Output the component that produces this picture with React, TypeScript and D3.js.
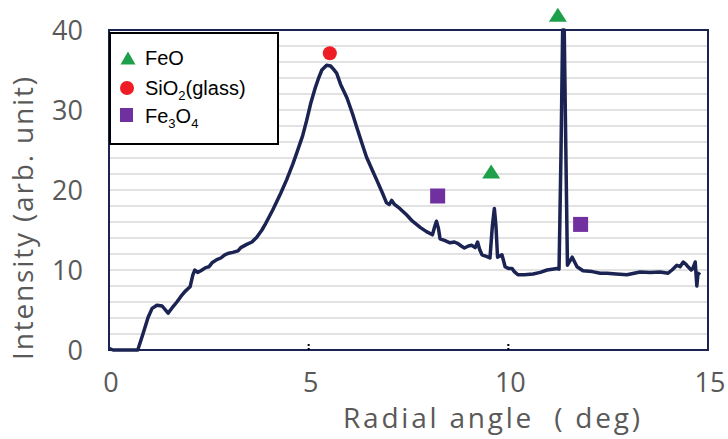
import React from "react";
import * as d3 from "d3";

const angle = [
  0.0, 0.1, 0.72, 0.85, 0.98, 1.08, 1.2, 1.33, 1.48, 1.6, 1.7, 1.8, 1.9, 2.03, 2.1, 2.15, 2.22, 2.3, 2.42, 2.5,
  2.58, 2.7, 2.8, 2.9, 3.0, 3.1, 3.23, 3.3, 3.45, 3.58, 3.7, 3.83, 3.9, 4.1, 4.3, 4.45, 4.6, 4.7, 4.85, 4.95,
  5.05, 5.16, 5.25, 5.33, 5.45, 5.55, 5.62, 5.7, 5.8, 5.96, 6.1, 6.2, 6.35, 6.45, 6.6, 6.7, 6.85, 6.95, 7.02, 7.08,
  7.15, 7.28, 7.45, 7.6, 7.8, 7.95, 8.1, 8.16, 8.2, 8.25, 8.29, 8.4, 8.54, 8.65, 8.74, 8.82, 8.9, 9.0, 9.08, 9.17,
  9.23, 9.28, 9.34, 9.45, 9.54, 9.6, 9.65, 9.69, 9.73, 9.8, 9.84, 9.92, 10.0, 10.09, 10.15, 10.24, 10.4, 10.62, 10.8, 10.97,
  11.1, 11.22, 11.27, 11.32, 11.36, 11.4, 11.44, 11.48, 11.6, 11.72, 11.87, 12.1, 12.3, 12.47, 12.7, 12.97, 13.15, 13.3, 13.55, 13.8,
  14.0, 14.1, 14.22, 14.3, 14.38, 14.45, 14.5, 14.58, 14.62, 14.68, 14.72, 14.75, 14.8,
];
const intensity = [
  0.2, 0.0, 0.0, 2.0, 4.1, 5.2, 5.6, 5.5, 4.6, 5.4, 6.0, 6.7, 7.3, 7.9, 9.4, 10.0, 9.7, 9.9, 10.3, 10.4,
  10.9, 11.3, 11.5, 11.9, 12.1, 12.2, 12.4, 12.8, 13.2, 13.5, 14.1, 15.0, 15.6, 17.5, 19.6, 21.3, 23.2, 24.6, 26.8, 28.7,
  30.8, 32.7, 34.0, 35.0, 35.6, 35.5, 35.1, 34.6, 33.2, 31.5, 29.5, 27.9, 25.6, 24.1, 22.4, 21.3, 19.6, 18.4, 18.2, 18.7,
  18.2, 17.7, 16.9, 16.1, 15.3, 14.8, 14.4, 15.5, 16.1, 15.2, 13.9, 13.7, 13.4, 13.5, 13.3, 13.0, 12.75, 13.0, 13.1, 12.8,
  13.5, 12.6, 11.9, 11.7, 11.5, 15.5, 17.7, 15.5, 11.6, 11.8, 11.9, 10.4, 10.2, 10.2, 9.8, 9.4, 9.4, 9.5, 9.7, 10.0,
  10.1, 10.2, 10.1, 25, 40, 40, 25, 10.6, 11.6, 10.4, 9.9, 9.8, 9.6, 9.6, 9.5, 9.4, 9.6, 9.75, 9.7, 9.75,
  9.6, 10.0, 10.6, 10.4, 11.0, 10.7, 10.4, 10.0, 10.2, 11.0, 8.0, 9.6, 9.4,
];

const xTicks = [0, 5, 10, 15];
const yTicks = [0, 10, 20, 30, 40];
const gridValues = d3.range(2, 40, 2);

// phase markers: [angle, intensity]
const feoMarkers = [[9.57, 22.3], [11.24, 41.9]];
const sio2Markers = [[5.53, 37.1]];
const fe3o4Markers = [[8.23, 19.25], [11.81, 15.7]];

const legendLabels = ["FeO", "SiO2(glass)", "Fe3O4"];
const xTitle = "Radial angle\u00a0\u00a0( deg)";
const yTitle = "Intensity (arb. unit)";

const W = 728, H = 439;
const left = 109, right = 708, top = 30, bottom = 350;

export default function App() {
  const x = d3.scaleLinear().domain([0, 15]).range([left, right]);
  const y = d3.scaleLinear().domain([0, 40]).range([bottom, top]);
  const pts = angle.map((a, i) => [a, intensity[i]] as [number, number]);
  const line = d3.line<[number, number]>().x(d => x(d[0])).y(d => y(d[1]));
  const gray = "#595959";
  const navy = "#1b2352";
  const tri = (cx: number, cy: number, w: number, h: number) =>
    `M${cx},${cy - h / 2}L${cx + w / 2},${cy + h / 2}L${cx - w / 2},${cy + h / 2}Z`;
  const font = "'Open Sans', 'Noto Sans', sans-serif";
  const lfont = "'Liberation Sans', Arial, sans-serif";

  return (
    <svg width={W} height={H} style={{ position: "absolute", left: 0, top: 0, background: "#fff" }}>
      <rect x={0} y={0} width={W} height={H} fill="#fff" />
      {gridValues.map(v => (
        <line key={v} x1={left} x2={right} y1={y(v)} y2={y(v)} stroke="#e2e2e2" strokeWidth={1.8} />
      ))}
      <rect x={left} y={top} width={right - left} height={bottom - top} fill="none" stroke={navy} strokeWidth={2} />
      {[5, 10].map(v => (
        <line key={v} x1={x(v)} x2={x(v)} y1={bottom} y2={bottom - 8} stroke="#000" strokeWidth={2} strokeDasharray="2,2" />
      ))}
      <path d={line(pts) || ""} fill="none" stroke={navy} strokeWidth={3.5} strokeLinejoin="round" />

      {sio2Markers.map((m, i) => (
        <circle key={i} cx={x(m[0])} cy={y(m[1])} r={7} fill="#ee1c25" />
      ))}
      {feoMarkers.map((m, i) => (
        <path key={i} d={tri(x(m[0]), y(m[1]), 18, 14)} fill="#1ea04a" />
      ))}
      {fe3o4Markers.map((m, i) => (
        <rect key={i} x={x(m[0]) - 7.5} y={y(m[1]) - 7.5} width={15} height={15} fill="#7030a0" />
      ))}

      <g>
        <rect x={110} y={33} width={168} height={111} fill="#fff" stroke="#000" strokeWidth={2} />
        <path d={tri(128, 58, 15, 13)} fill="#1ea04a" />
        <circle cx={127} cy={88} r={7} fill="#ee1c25" />
        <rect x={120} y={108} width={13} height={14} fill="#7030a0" />
        <text x={145} y={65} fontFamily={lfont} fontSize={20} fill="#000">{legendLabels[0]}</text>
        <text x={145} y={95} fontFamily={lfont} fontSize={20} fill="#000">
          SiO<tspan fontSize={13} dy={5}>2</tspan><tspan dy={-5}>(glass)</tspan>
        </text>
        <text x={145} y={123} fontFamily={lfont} fontSize={20} fill="#000">
          Fe<tspan fontSize={13} dy={5}>3</tspan><tspan dy={-5}>O</tspan><tspan fontSize={13} dy={5}>4</tspan>
        </text>
      </g>

      {yTicks.map(v => (
        <text key={v} x={83} y={y(v) + 10} textAnchor="end" fontFamily={font} fontSize={27} fill={gray}>{v}</text>
      ))}
      {xTicks.map(v => (
        <text key={v} x={x(v) + 2} y={392} textAnchor="middle" fontFamily={font} fontSize={27} fill={gray}>{v}</text>
      ))}
      <text x={343} y={428} textLength={297} lengthAdjust="spacing" fontFamily={font} fontSize={28} fill={gray}>{xTitle}</text>
      <text transform={`translate(33,${360}) rotate(-90)`} textLength={283} lengthAdjust="spacing" fontFamily={font} fontSize={28} fill={gray}>
        {yTitle}
      </text>
    </svg>
  );
}
